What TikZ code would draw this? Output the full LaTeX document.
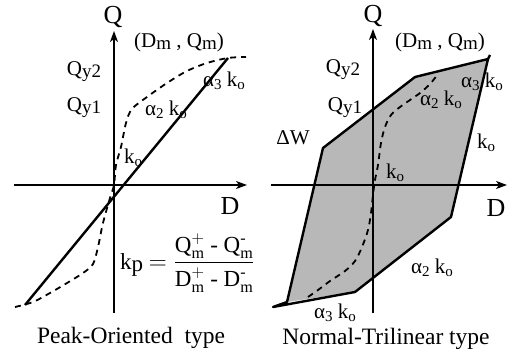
\documentclass[tikz,border=0pt]{standalone}
\usepackage{fontspec}
\setmainfont{Liberation Serif}
\usepackage{amsmath}
\usetikzlibrary{arrows.meta}
\definecolor{LoopGray}{gray}{0.72}
\newcommand{\lowtxt}[1]{\raisebox{-2pt}{\fontsize{19}{21}\selectfont #1}}
\newcommand{\lowsub}[1]{\raisebox{-3.5pt}{\fontsize{15}{17}\selectfont #1}}
\tikzset{
  axisline/.style={line width=1.3pt,-{Stealth[length=11pt,width=8pt,inset=3pt]}},
  branch/.style={line width=2.4pt,line join=round},
  skeleton/.style={line width=1.8pt,dash pattern=on 6pt off 5pt},
  lbl/.style={inner sep=0pt,font=\fontsize{21}{24}\selectfont},
  biglbl/.style={inner sep=0pt,font=\fontsize{26}{30}\selectfont},
  title/.style={inner sep=0pt,font=\fontsize{23.5}{28}\selectfont}
}

\begin{document}
\begin{tikzpicture}[x=1pt,y=-1pt]
        \useasboundingbox (0,0) rectangle (517,356);
        % Peak-Oriented
        \coordinate (lqb) at (114,313);
        \coordinate (lqt) at (114,31);
        \coordinate (ldl) at (14,185);
        \coordinate (ldr) at (247,185);
        \coordinate (lneg) at (25,305);
        \coordinate (lpos) at (228,58);
        \draw[skeleton] plot[smooth,tension=0.55] coordinates {
          (15,307) (33,302) (50,293) (67,283) (83,273) (93,264)
          (98,247) (103,223) (110,198) (114,185) (116,165) (121,147)
          (126,123) (132,109) (147,97) (167,83) (187,71) (207,63)
          (228,58) (246,57)};
        \draw[branch] (lneg) -- (lpos);
        \draw[axisline] (lqb) -- (lqt);
        \draw[axisline] (ldl) -- (ldr);
        \node[biglbl] (lq) at (113,17) {Q};
        \node[biglbl] (ld) at (230,206) {D};
        \node[lbl] (lpeak) at (179,42) {(D\lowtxt{m} , Q\lowtxt{m})};
        \node[lbl] (lqy2) at (84,72) {Q\lowtxt{y2}};
        \node[lbl] (lqy1) at (84,108) {Q\lowtxt{y1}};
        \node[lbl] (la2) at (166,110) {α\lowsub{2} k\lowsub{o}};
        \node[lbl] (la3) at (224,81) {α\lowsub{3} k\lowsub{o}};
        \node[lbl] (lk0) at (133,158) {k\lowsub{o}};
        \node[lbl,anchor=west,font=\fontsize{23}{26}\selectfont] (lkp) at (120,263)
          {k\raisebox{-2pt}{p} $=\dfrac{\text{Q}^{+}_{\text{m}}\text{ - }\text{Q}^{\text{-}}_{\text{m}}}
          {\text{D}^{+}_{\text{m}}\text{ - }\text{D}^{\text{-}}_{\text{m}}}$};
        \node[title] (ltitle) at (131,338) {Peak-Oriented~ type};
        % Normal-Trilinear
        \coordinate (rqb) at (373,313);
        \coordinate (rqt) at (373,29);
        \coordinate (rdl) at (271,185);
        \coordinate (rdr) at (507,185);
        \coordinate (r1) at (287,302);
        \coordinate (r2) at (323,148);
        \coordinate (r3) at (415,77);
        \coordinate (r4) at (488,59);
        \coordinate (r5) at (451,217);
        \coordinate (r6) at (355,292);
        \fill[LoopGray] (r1) -- (r2) -- (r3) -- (r4) -- (r5) -- (r6) -- cycle;
        \draw[skeleton] plot[smooth,tension=0.55] coordinates {
          (308,297) (318,290) (330,281) (345,271) (355,261) (362,247)
          (368,230) (371,213) (373,195) (375,180) (378,165) (381,143)
          (385,127) (391,115) (400,107) (410,100) (420,93) (430,84)
          (438,74)};
        \draw[branch] (273,307) -- (r1) -- (r2) -- (r3) -- (r4)
          -- (r5) -- (r6) -- cycle;
        \draw[branch] (r4) -- ++(2,-4);
        \draw[axisline] (rqb) -- (rqt);
        \draw[axisline] (rdl) -- (rdr);
        \node[biglbl] (rq) at (373,16) {Q};
        \node[biglbl] (rd) at (496,208) {D};
        \node[lbl] (rpeak) at (440,42) {(D\lowtxt{m} , Q\lowtxt{m})};
        \node[lbl] (rqy2) at (343,70) {Q\lowtxt{y2}};
        \node[lbl] (rqy1) at (345,108) {Q\lowtxt{y1}};
        \node[lbl] (rdw) at (293,138) {ΔW};
        \node[lbl] (ra2) at (441,100) {α\lowsub{2} k\lowsub{o}};
        \node[lbl] (ra3) at (482,82) {α\lowsub{3} k\lowsub{o}};
        \node[lbl] (rk0a) at (486,143) {k\lowsub{o}};
        \node[lbl] (rk0b) at (395,173) {k\lowsub{o}};
        \node[lbl] (ra2b) at (432,268) {α\lowsub{2} k\lowsub{o}};
        \node[lbl] (ra3b) at (335,313) {α\lowsub{3} k\lowsub{o}};
        \node[title] (rtitle) at (386,339) {Normal-Trilinear type};
\end{tikzpicture}
\end{document}
